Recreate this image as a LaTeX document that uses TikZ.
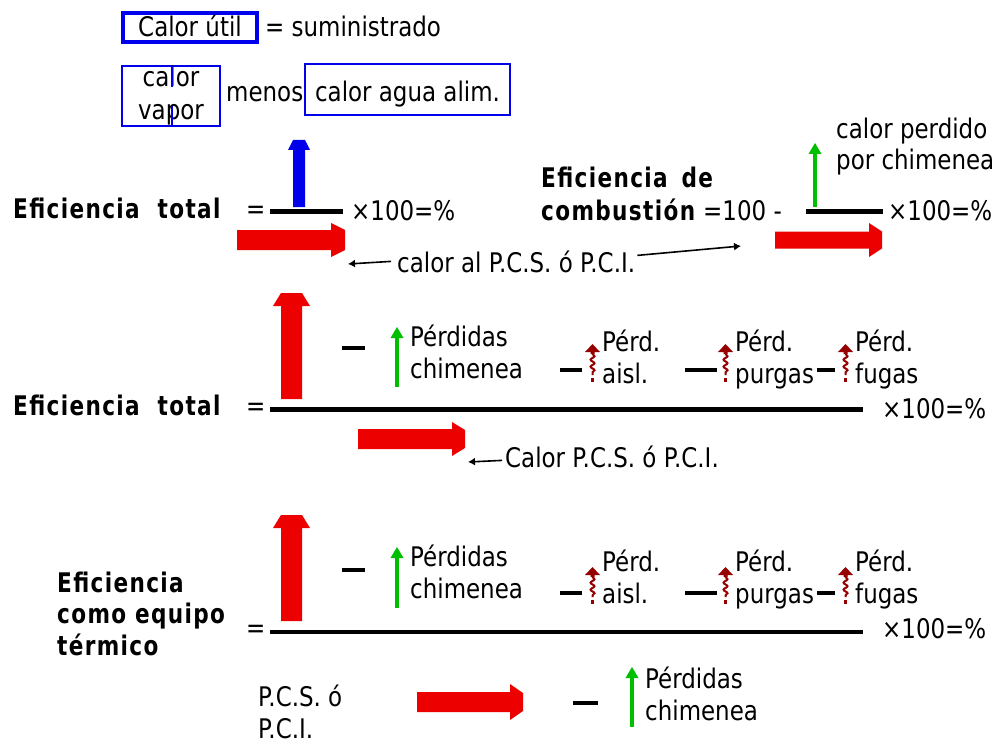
\documentclass[tikz,border=0pt]{standalone}
\usepackage{fontspec}
\usetikzlibrary{arrows.meta,decorations.pathmorphing}
\newfontfamily\gen[FakeStretch=0.85]{DejaVu Sans}
\newfontfamily\genb[FakeStretch=0.8,LetterSpace=5]{DejaVu Sans}
\definecolor{myred}{RGB}{236,0,0}
\definecolor{myblue}{RGB}{0,0,235}
\definecolor{mygreen}{RGB}{0,190,0}
\definecolor{mydred}{RGB}{150,0,0}
% fat right arrow: x1, x2(tip), yc, body half, head half, head length, tip half
\newcommand{\fatright}[7]{%
  \fill[myred] (#1,{#3-#4}) -- ({#2-#6},{#3-#4}) -- ({#2-#6},{#3-#5}) -- (#2,{#3-#7})
   -- (#2,{#3+#7}) -- ({#2-#6},{#3+#5}) -- ({#2-#6},{#3+#4}) -- (#1,{#3+#4}) -- cycle;}
% fat up arrow: xc, ytop, ybottom, shaft half, head half, head length, tip half, colour
\newcommand{\fatup}[8]{%
  \fill[#8] ({#1-#4},#3) -- ({#1-#4},{#2+#6}) -- ({#1-#5},{#2+#6}) -- ({#1-#7},#2)
   -- ({#1+#7},#2) -- ({#1+#5},{#2+#6}) -- ({#1+#4},{#2+#6}) -- ({#1+#4},#3) -- cycle;}
% thin green arrow: x, ytop, ybottom
\newcommand{\greenup}[3]{%
  \fill[mygreen] (#1,#2) -- ({#1+6.5},{#2+11}) -- ({#1-6.5},{#2+11}) -- cycle;
  \draw[mygreen, line width=3.5pt] (#1,{#2+10}) -- (#1,#3);}
% wavy dark-red arrow: x, ytop, ybottom
\newcommand{\wavyup}[3]{%
  \fill[mydred] (#1,#2) -- ({#1+7.5},{#2+8}) -- ({#1+2},{#2+8}) -- ({#1+2},{#2+10}) -- ({#1-2},{#2+10}) -- ({#1-2},{#2+8}) -- ({#1-7.5},{#2+8}) -- cycle;
  \draw[mydred, line width=2pt, decorate, decoration={snake, amplitude=2pt, segment length=7pt}] (#1,{#2+10}) -- (#1,#3);
  \fill[mydred] ({#1-1.5},{#3+3}) rectangle ({#1+1.5},{#3+7});}
\begin{document}
\begin{tikzpicture}[x=1pt,y=-1pt,
  txt/.style={font=\gen\fontsize{27}{31.5}\selectfont, inner sep=0pt, anchor=base west, align=left},
  btxt/.style={font=\genb\bfseries\fontsize{27}{31.5}\selectfont, inner sep=0pt, anchor=base west, align=left},
  bbox/.style={draw=myblue, inner sep=0pt, font=\gen\fontsize{27}{33}\selectfont, align=center},
  bar/.style={line width=4.5pt},
  dashbar/.style={line width=4pt},
  conn/.style={line width=1.6pt, -{Latex[length=7pt,width=8pt]}}]
\useasboundingbox (0,0) rectangle (995,746);
\fill[white] (0,0) rectangle (995,746);

% ---------- definitions at the top ----------
\node[bbox, line width=3.5pt, minimum width=134, minimum height=29, text height=19pt, text depth=0pt] (cutil) at (190,27.5) {Calor útil};
\node[txt] (sumi) at (265,37) {= suministrado};
\node[bbox, line width=1.6pt, minimum width=98, minimum height=60] (cvap) at (171,96) {calor\\vapor};
\draw[myblue, line width=1.5pt] (172,66) -- (172,87);
\draw[myblue, line width=1.5pt] (172,106) -- (172,126);
\node[txt] (menos) at (226,102) {menos};
\node[bbox, line width=1.6pt, minimum width=205, minimum height=51, text height=24pt, text depth=0pt] (cagua) at (407.5,89.5) {calor agua alim.};

% ---------- row 1: Eficiencia total ----------
\node[btxt] (ef1) at (13,218) {Eficiencia\hspace{9pt} total};
\node[txt] (eq1) at (246,218) {=};
\draw[bar] (270,211.5) -- (343,211.5);
\fatup{299}{140}{207}{6}{11}{10}{6}{myblue}
\fatright{237}{345}{240}{10}{17}{14}{10}
\node[txt] (x1) at (351,220) {×100=\%};
\node[txt] (lbl1) at (397,272) {calor al P.C.S. ó P.C.I.};
\coordinate (tipA) at (348,264);
\coordinate (tipB) at (741,246);
\draw[conn] ([xshift=-6pt]lbl1.west) -- (tipA);
\draw[conn] ([xshift=2pt,yshift=6pt]lbl1.east) -- (tipB);

% ---------- row 1 right: Eficiencia de combustion ----------
\node[btxt] (ec1) at (541,187) {Eficiencia\hspace{5pt} de};
\node[btxt] (ec2) at (541,220) {combustión};
\node[txt] (cien) at (703,220) {=100 -};
\draw[bar] (806,211.5) -- (883,211.5);
\greenup{815}{143}{207}
\node[txt] (cperd) at (836,170) {calor perdido\\por chimenea};
\fatright{775}{882}{240}{8.5}{17}{13}{8.5}
\node[txt] (x2) at (888,220) {×100=\%};

% ---------- row 2: Eficiencia total (detailed) ----------
\node[btxt] (ef2) at (13,415) {Eficiencia\hspace{9pt} total};
\node[txt] (eq2) at (246,415) {=};
\draw[bar] (270,409.5) -- (863,409.5);
\fatup{291.5}{293}{399}{10.5}{18.5}{13}{10.5}{myred}
\draw[dashbar] (342,348) -- (365,348);
\greenup{397}{327}{387}
\node[txt] (pc2) at (410,378) {Pérdidas\\chimenea};
\draw[dashbar] (560,370) -- (582,370);
\wavyup{592.5}{344}{375}
\node[txt] (pa2) at (602,383) {Pérd.\\aisl.};
\draw[dashbar] (685,370) -- (717,370);
\wavyup{725.5}{344}{375}
\node[txt] (pp2) at (735,383) {Pérd.\\purgas};
\draw[dashbar] (817,370) -- (835,370);
\wavyup{845.5}{344}{375}
\node[txt] (pf2) at (855,383) {Pérd.\\fugas};
\node[txt] (x3) at (882,418) {×100=\%};
\fatright{358}{465}{439}{10}{17}{13}{9}
\node[txt] (lbl2) at (505,467) {Calor P.C.S. ó P.C.I.};
\coordinate (tipC) at (468,462);
\draw[conn] ([xshift=-3pt,yshift=-4pt]lbl2.west) -- (tipC);

% ---------- row 3: Eficiencia como equipo termico ----------
\node[btxt] (et) at (57,655) {Eficiencia\\como equipo\\térmico};
\node[txt] (eq3) at (246,637) {=};
\draw[bar] (270,632) -- (863,632);
\fatup{291.5}{515}{621}{10.5}{18.5}{13}{10.5}{myred}
\draw[dashbar] (342,570) -- (365,570);
\greenup{397}{547}{608}
\node[txt] (pc3) at (410,598) {Pérdidas\\chimenea};
\draw[dashbar] (560,593) -- (582,593);
\wavyup{592.5}{567}{597}
\node[txt] (pa3) at (602,603) {Pérd.\\aisl.};
\draw[dashbar] (685,593) -- (717,593);
\wavyup{725.5}{567}{597}
\node[txt] (pp3) at (735,603) {Pérd.\\purgas};
\draw[dashbar] (817,593) -- (835,593);
\wavyup{845.5}{567}{597}
\node[txt] (pf3) at (855,603) {Pérd.\\fugas};
\node[txt] (x4) at (882,638) {×100=\%};
\node[txt] (pcs) at (258,738) {P.C.S. ó\\P.C.I.};
\fatright{417}{523}{702}{10}{18}{13}{9}
\draw[dashbar] (573,703) -- (598,703);
\greenup{632}{667}{727}
\node[txt] (pc4) at (645,720) {Pérdidas\\chimenea};
\end{tikzpicture}
\end{document}
